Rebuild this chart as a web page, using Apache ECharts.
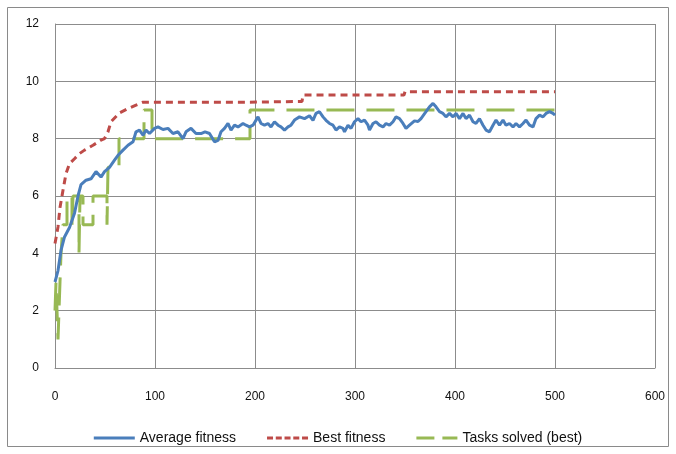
<!DOCTYPE html>
<html>
<head>
<meta charset="utf-8">
<script src="https://cdn.jsdelivr.net/npm/echarts@6/dist/echarts.min.js"></script>
<style>
html,body{margin:0;padding:0;background:#fff;}
#c{width:676px;height:454px;}
</style>
</head>
<body>
<div id="c"></div>
<script>
// ---- data ----
var xTicks = [0, 100, 200, 300, 400, 500, 600];
var yTicks = [0, 2, 4, 6, 8, 10, 12];

var avgGen = [0,3,6,9.5,14.5,19.5,23,26,31,36,41,46,49.5,54.5,59.5,63,68,73,78,81,84.5,88,91,94.5,99.5,103,108,113,118,123,128,131,136,141,146,150,154.5,159.5,163,166,169.5,173,176,179.5,183,188,191,194.5,198,203,206,209.5,213,216,219.5,223,226,229.5,233,236,239.5,244.5,249.5,254.5,258,261,264.5,268,271,274.5,278,281,284.5,288,289.5,293,296,299.5,303,306,309.5,313,314.5,318,321,324.5,328,331,334.5,338,341,344.5,348,351,354.5,359.5,363,366,371,374.5,378,381,384.5,388,391,394.5,398,401,404.5,408,411,414.5,418,421,424.5,428,431,434.5,438,441,444.5,448,451,454.5,458,461,464.5,468,471,474.5,478,481,484.5,488,491,494.5,498,500];
var avgFit = [3.0,3.4,4.1,4.57,4.9,5.4,6.0,6.4,6.55,6.6,6.85,6.66,6.85,7.0,7.25,7.42,7.6,7.77,7.89,8.24,8.3,8.12,8.3,8.18,8.36,8.41,8.32,8.36,8.18,8.24,8.0,8.24,8.36,8.18,8.18,8.24,8.18,7.89,7.94,8.24,8.36,8.53,8.3,8.47,8.41,8.53,8.47,8.41,8.47,8.76,8.53,8.47,8.53,8.41,8.59,8.47,8.41,8.3,8.41,8.47,8.65,8.76,8.7,8.8,8.64,8.88,8.94,8.76,8.64,8.53,8.47,8.3,8.41,8.36,8.24,8.47,8.36,8.59,8.7,8.59,8.65,8.47,8.3,8.53,8.59,8.47,8.41,8.53,8.47,8.59,8.76,8.7,8.53,8.36,8.47,8.62,8.6,8.7,8.94,9.11,9.23,9.11,8.94,8.88,8.76,8.88,8.76,8.88,8.7,8.88,8.7,8.82,8.59,8.53,8.7,8.47,8.3,8.24,8.47,8.65,8.47,8.65,8.47,8.53,8.41,8.53,8.41,8.53,8.65,8.47,8.41,8.7,8.82,8.76,8.88,8.94,8.88,8.82];

var bestGen = [0,3,5,8,11,14.5,19.5,24.5,29.5,38,46,49.5,53,56,64.5,73,81,88,192,193,247,248,349,350,500];
var bestFit = [4.34,4.92,5.6,6.2,6.78,7.13,7.3,7.48,7.6,7.77,7.95,8.0,8.24,8.59,8.9,9.05,9.17,9.27,9.27,9.3,9.3,9.52,9.52,9.64,9.64];

var taskGen = [0,1,2,3,5,6,8,12,17,18,24,25,28,38,52,53,64,89,97,195,500];
var taskVal = [2,3,2,1,3,4,5,6,5,6,4,6,5,6,5,7,8,9,8,9,9];

var seriesNames = ['Average fitness', 'Best fitness', 'Tasks solved (best)'];

function pairs(xs, ys){ return xs.map(function(x,i){ return [x, ys[i]]; }); }

var chart = echarts.init(document.getElementById('c'), null, {renderer:'canvas'});
var FONT = 'Liberation Sans';
chart.setOption({
  backgroundColor: '#fff',
  animation: false,
  graphic: [{
    type: 'rect', shape: {x: 7.5, y: 7.5, width: 661, height: 439},
    style: {fill: 'none', stroke: '#8a8a8a', lineWidth: 1}, silent: true, z: -1
  }],
  grid: {left: 55, top: 24, width: 600, height: 344, containLabel: false},
  xAxis: {
    type: 'value', min: xTicks[0], max: xTicks[xTicks.length-1], interval: 100,
    axisLine: {show: true, lineStyle: {color: '#8c8c8c', width: 1}},
    axisTick: {show: false},
    splitLine: {show: true, lineStyle: {color: '#8c8c8c', width: 1}},
    axisLabel: {color: '#111', fontFamily: FONT, fontSize: 12, margin: 23}
  },
  yAxis: {
    type: 'value', min: yTicks[0], max: yTicks[yTicks.length-1], interval: 2,
    axisLine: {show: true, lineStyle: {color: '#8c8c8c', width: 1}},
    axisTick: {show: false},
    splitLine: {show: true, lineStyle: {color: '#8c8c8c', width: 1}},
    axisLabel: {color: '#111', fontFamily: FONT, fontSize: 12, margin: 16}
  },
  legend: {
    top: 426, left: 'center', itemWidth: 41, itemHeight: 3, itemGap: 31,
    textStyle: {fontFamily: FONT, fontSize: 14, color: '#111'},
    data: [
      {name: seriesNames[0], icon: 'path://M0,0h41v3h-41z'},
      {name: seriesNames[1], icon: 'path://M0,0h6v3h-6zM8.75,0h6v3h-6zM17.5,0h6v3h-6zM26.25,0h6v3h-6zM35,0h6v3h-6z'},
      {name: seriesNames[2], icon: 'path://M0,0h18v3h-18zM26,0h15v3h-15z'}
    ]
  },
  series: [
    {name: seriesNames[0], type: 'line', data: pairs(avgGen, avgFit), showSymbol: false, symbol: 'none',
     lineStyle: {color: '#4a7ebb', width: 3}, itemStyle: {color: '#4a7ebb'}, z: 3},
    {name: seriesNames[1], type: 'line', data: pairs(bestGen, bestFit), showSymbol: false, symbol: 'none',
     lineStyle: {color: '#be4b48', width: 3, type: [7, 5]}, itemStyle: {color: '#be4b48'}, z: 2},
    {name: seriesNames[2], type: 'line', step: 'end', data: pairs(taskGen, taskVal), showSymbol: false, symbol: 'none',
     lineStyle: {color: '#98b954', width: 3, type: [28, 12]}, itemStyle: {color: '#98b954'}, z: 1}
  ]
});
</script>
</body>
</html>
